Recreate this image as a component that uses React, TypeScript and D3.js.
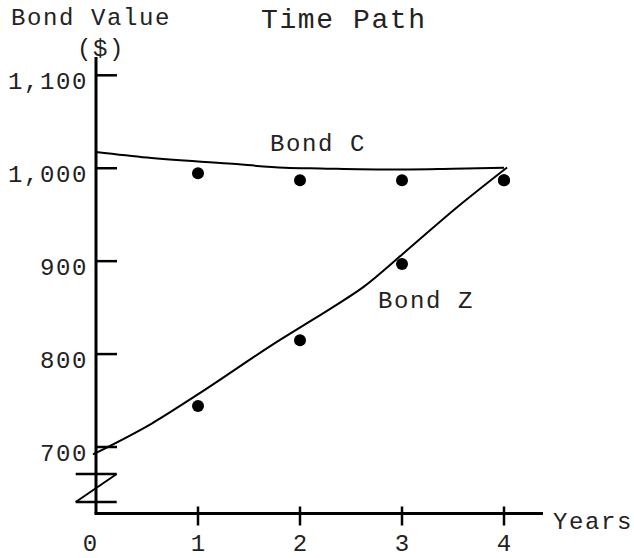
import React from "react";
import * as d3 from "d3";

const years = [0, 1, 2, 3, 4];
const yTicks = [700, 800, 900, 1000, 1100];
const yTickLabels = ["700", "800", "900", "1,000", "1,100"];

// Smooth time-path lines
const bondCPathYears = [0, 0.5, 1.3, 1.85, 2.2, 2.85, 3.5, 4];
const bondCPathValues = [1017.5, 1011.5, 1005, 1000.5, 999.7, 998.6, 999.5, 1000.5];
const bondZPathYears = [-0.03, 0.55, 0.99, 1.8, 2.05, 2.3, 2.62, 3.01, 3.54, 4.03];
const bondZPathValues = [692, 725.5, 756, 815, 832, 849, 872, 908, 958, 1000.8];

// Dots
const dotYears = [1, 2, 3, 4];
const bondCDots = [994.6, 987, 987, 987];
const bondZDots = [744, 815, 897, 987];

const W = 634;
const H = 558;
const FONT = "'Liberation Mono', 'Courier New', monospace";

export default function App() {
  const x = d3.scaleLinear().domain([0, 4]).range([96, 504]);
  const y = d3.scaleLinear().domain([700, 1100]).range([447, 75.3]);
  const axisY = 513.5;
  const axisX = x(0);

  const line = d3
    .line<[number, number]>()
    .x((d) => x(d[0]))
    .y((d) => y(d[1]))
    .curve(d3.curveMonotoneX);

  const cPts: [number, number][] = bondCPathYears.map((t, i) => [t, bondCPathValues[i]]);
  const zPts: [number, number][] = bondZPathYears.map((t, i) => [t, bondZPathValues[i]]);

  const textStyle = { fontFamily: FONT, fontSize: 24, letterSpacing: 1.6, fill: "#222" } as const;

  return (
    <svg
      width={W}
      height={H}
      style={{ position: "absolute", left: 0, top: 0, background: "#fff" }}
    >
      <rect x={0} y={0} width={W} height={H} fill="#fff" />
      {/* Title and axis titles */}
      <text x={261} y={28} style={{ ...textStyle, fontSize: 28, letterSpacing: 1.6 }}>
        Time Path
      </text>
      <text x={11} y={25} style={textStyle}>
        Bond Value
      </text>
      <text x={77} y={56} style={textStyle}>
        ($)
      </text>
      <text x={553} y={529} style={textStyle}>
        Years
      </text>

      {/* Y axis */}
      <line x1={axisX} y1={57} x2={axisX} y2={axisY} stroke="#000" strokeWidth={3} />
      {yTicks.map((v, i) => (
        <g key={v}>
          <line x1={axisX} y1={y(v)} x2={axisX + 21} y2={y(v)} stroke="#000" strokeWidth={2.5} />
          <text x={88} y={y(v) + 14} textAnchor="end" style={textStyle}>
            {yTickLabels[i]}
          </text>
        </g>
      ))}

      {/* Axis break symbol */}
      <line x1={75.7} y1={474} x2={116.7} y2={474} stroke="#000" strokeWidth={2.5} />
      <line x1={75.7} y1={502} x2={116.7} y2={502} stroke="#000" strokeWidth={2.5} />
      <line x1={116.7} y1={474} x2={75.7} y2={502} stroke="#000" strokeWidth={2} />

      {/* X axis */}
      <line x1={axisX - 1.5} y1={axisY} x2={543} y2={axisY} stroke="#000" strokeWidth={3} />
      {years.map((t) => (
        <g key={t}>
          {t > 0 && (
            <line x1={x(t)} y1={axisY - 7} x2={x(t)} y2={axisY + 12} stroke="#000" strokeWidth={2.5} />
          )}
          <text
            x={t === 0 ? x(t) - 6 : x(t)}
            y={551}
            textAnchor="middle"
            style={{ ...textStyle, letterSpacing: 0 }}
          >
            {t}
          </text>
        </g>
      ))}

      {/* Time paths */}
      <path d={line(cPts) || ""} fill="none" stroke="#000" strokeWidth={2} />
      <path d={line(zPts) || ""} fill="none" stroke="#000" strokeWidth={2} />

      {/* Dots */}
      {dotYears.map((t, i) => (
        <circle key={"c" + t} cx={x(t)} cy={y(bondCDots[i])} r={6} fill="#000" />
      ))}
      {dotYears.map((t, i) => (
        <circle key={"z" + t} cx={x(t)} cy={y(bondZDots[i])} r={6} fill="#000" />
      ))}

      {/* Labels */}
      <text x={270} y={150.5} style={textStyle}>
        Bond C
      </text>
      <text x={378} y={308} style={textStyle}>
        Bond Z
      </text>
    </svg>
  );
}
